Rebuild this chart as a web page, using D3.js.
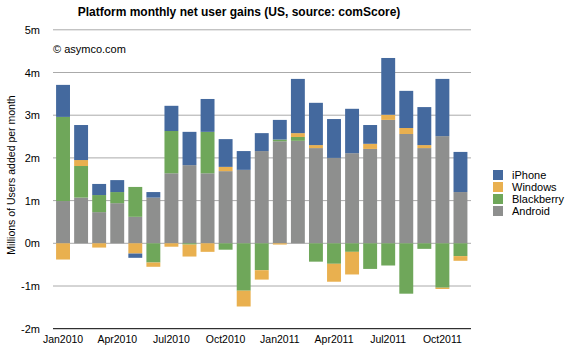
<!DOCTYPE html>
<html>
<head>
<meta charset="utf-8">
<script src="https://cdn.jsdelivr.net/npm/d3@7"></script>
<style>
  body { margin: 0; background: #fff; }
  text { font-family: "Liberation Sans", Arial, Helvetica, sans-serif; }
</style>
</head>
<body>
<svg id="chart" width="571" height="353"></svg>
<script>
const months = ["Jan2010","Feb2010","Mar2010","Apr2010","May2010","Jun2010","Jul2010","Aug2010","Sep2010","Oct2010","Nov2010","Dec2010",
  "Jan2011","Feb2011","Mar2011","Apr2011","May2011","Jun2011","Jul2011","Aug2011","Sep2011","Oct2011","Nov2011"];
const android    = [0.99, 1.07, 0.73, 0.94, 0.62, 1.07, 1.64, 1.83, 1.64, 1.69, 1.72, 2.16, 2.39, 2.40, 2.23, 2.00, 2.11, 2.21, 2.89, 2.56, 2.23, 2.51, 1.20];
const blackberry = [1.97, 0.74, 0.40, 0.26, 0.70, -0.45, 0.99, -0.03, 0.97, -0.15, -1.11, -0.63, 0.04, 0.09, -0.43, -0.48, -0.20, -0.60, -0.52, -1.18, -0.13, -1.04, -0.30];
const windows    = [-0.38, 0.14, -0.10, 0, -0.24, -0.10, -0.08, -0.28, -0.20, 0.10, -0.37, -0.22, -0.03, 0.09, 0.07, -0.42, -0.53, 0.12, 0.12, 0.14, 0.07, -0.03, -0.11];
const iphone     = [0.75, 0.82, 0.26, 0.28, -0.10, 0.13, 0.59, 0.78, 0.77, 0.65, 0.44, 0.42, 0.46, 1.27, 0.99, 0.91, 1.04, 0.44, 1.33, 0.87, 0.89, 1.34, 0.94];
const yTicks = [-2, -1, 0, 1, 2, 3, 4, 5];
const xLabels = ["Jan2010","Apr2010","Jul2010","Oct2010","Jan2011","Apr2011","Jul2011","Oct2011"];

const keys = ["Android", "Blackberry", "Windows", "iPhone"];
const colors = { iPhone: "#44699e", Windows: "#e9b04f", Blackberry: "#6fa75a", Android: "#8e8f8e" };
const legendOrder = ["iPhone", "Windows", "Blackberry", "Android"];

const table = months.map((m, i) => ({
  month: m, Android: android[i], Blackberry: blackberry[i], Windows: windows[i], iPhone: iphone[i]
}));

const svg = d3.select("#chart");
const left = 53, right = 471;

const x = d3.scaleBand().domain(months).range([54, 469.5]).paddingInner(0.23).paddingOuter(0.115);
const y = d3.scaleLinear().domain([-2, 5]).range([328.7, 29.8]);

// gridlines
svg.append("g").selectAll("line")
  .data(yTicks.filter(d => d !== -2))
  .enter().append("line")
  .attr("x1", left).attr("x2", right)
  .attr("y1", d => y(d)).attr("y2", d => y(d))
  .attr("stroke", "#aaaaaa").attr("stroke-width", 1);

// y labels
svg.append("g").selectAll("text")
  .data(yTicks)
  .enter().append("text")
  .attr("x", 40).attr("y", d => y(d) + 4)
  .attr("text-anchor", "end")
  .style("font-size", "11px")
  .text(d => d + "m");

const series = d3.stack().keys(keys).offset(d3.stackOffsetDiverging)(table);

svg.append("g").selectAll("g")
  .data(series)
  .enter().append("g")
  .attr("fill", d => colors[d.key])
  .selectAll("rect")
  .data(d => d)
  .enter().append("rect")
  .attr("x", d => x(d.data.month))
  .attr("width", x.bandwidth())
  .attr("y", d => y(Math.max(d[0], d[1])))
  .attr("height", d => Math.abs(y(d[0]) - y(d[1])));

// x axis line
svg.append("line")
  .attr("x1", left).attr("x2", right)
  .attr("y1", y(-2)).attr("y2", y(-2))
  .attr("stroke", "#000").attr("stroke-width", 1);

svg.append("g").selectAll("text")
  .data(xLabels)
  .enter().append("text")
  .attr("x", d => x(d) + x.bandwidth() / 2)
  .attr("y", 343)
  .attr("text-anchor", "middle")
  .style("font-size", "10.5px")
  .text(d => d);

// title
svg.append("text")
  .attr("x", 239).attr("y", 16)
  .attr("text-anchor", "middle")
  .style("font-size", "12px")
  .style("font-weight", "bold")
  .text("Platform monthly net user gains (US, source: comScore)");

svg.append("text")
  .attr("x", 53).attr("y", 53)
  .style("font-size", "11px")
  .text("© asymco.com");

svg.append("text")
  .attr("transform", "translate(15,175) rotate(-90)")
  .attr("text-anchor", "middle")
  .style("font-size", "10.5px")
  .text("Millions of Users added per month");

// legend
const legend = svg.selectAll(".legend")
  .data(legendOrder)
  .enter().append("g")
  .attr("class", "legend")
  .attr("transform", (d, i) => `translate(493, ${170 + i * 12})`);

legend.append("rect")
  .attr("width", 10).attr("height", 10)
  .attr("fill", d => colors[d]);

legend.append("text")
  .attr("x", 19).attr("y", 9)
  .style("font-size", "11px")
  .text(d => d);
</script>
</body>
</html>
